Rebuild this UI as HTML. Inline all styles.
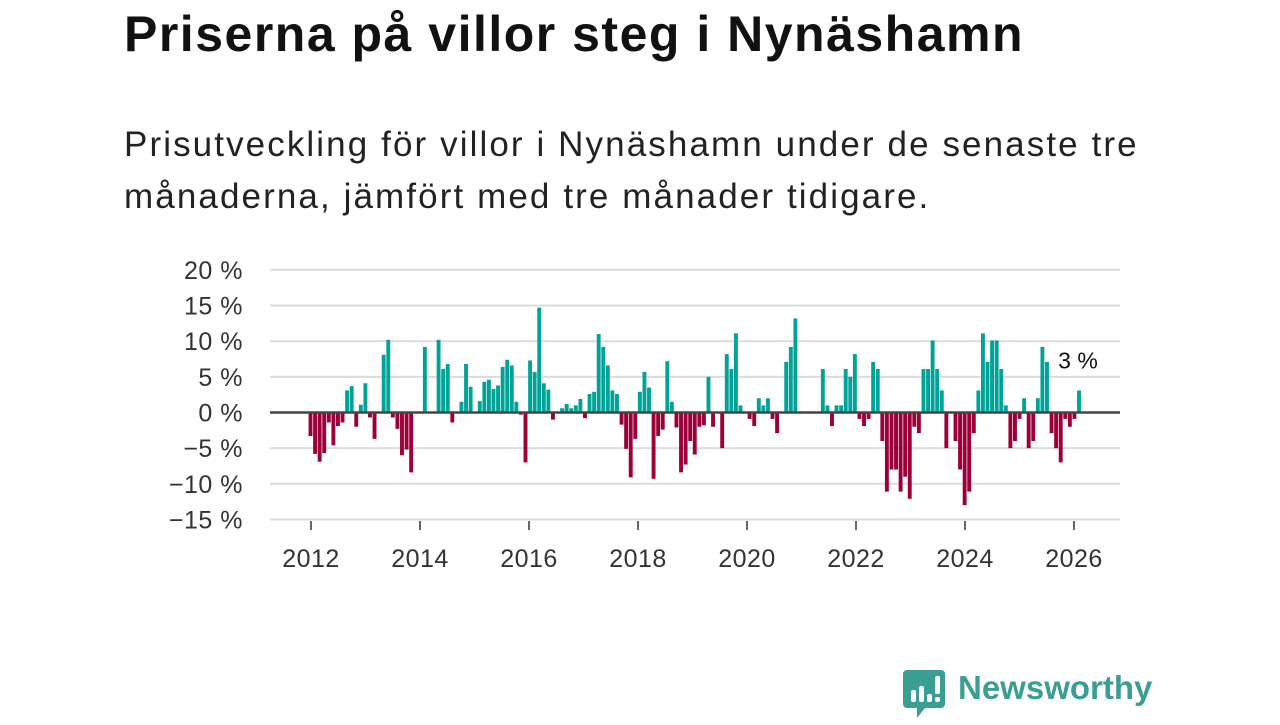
<!DOCTYPE html>
<html><head><meta charset="utf-8">
<style>
body{margin:0;background:#fff;width:1280px;height:720px;overflow:hidden;font-family:"Liberation Sans","DejaVu Sans",sans-serif;}
h1{position:absolute;left:124px;top:5px;margin:0;font-size:50px;font-weight:bold;color:#111;letter-spacing:1.5px;white-space:nowrap;}
p.sub{position:absolute;left:124px;top:119px;margin:0;font-size:35px;line-height:52px;color:#222;width:1100px;letter-spacing:2.1px;white-space:nowrap;}
#chart{position:absolute;left:0;top:0;}
.logo{position:absolute;left:903px;top:670px;}
.logo span{position:absolute;left:55px;top:-1px;font-size:33px;font-weight:bold;color:#3a9e92;white-space:nowrap;}
</style></head><body>
<h1>Priserna på villor steg i Nynäshamn</h1>
<p class="sub">Prisutveckling för villor i Nynäshamn under de senaste tre<br>månaderna, jämfört med tre månader tidigare.</p>
<svg id="chart" width="1280" height="720"></svg>
<div class="logo">
<svg width="42" height="50" viewBox="0 0 42 50"><path d="M4 0h34a4 4 0 0 1 4 4v30a4 4 0 0 1-4 4H22L14 48V38H4a4 4 0 0 1-4-4V4a4 4 0 0 1 4-4z" fill="#3a9e92"/><rect x="8" y="20" width="5" height="12" rx="2" fill="#fff"/><rect x="16" y="16" width="5" height="16" rx="2" fill="#fff"/><rect x="24" y="24" width="5" height="8" rx="2" fill="#fff"/><rect x="32" y="6" width="5" height="18" rx="2" fill="#fff"/><rect x="32" y="27" width="5" height="5" rx="2" fill="#fff"/></svg>
<span>Newsworthy</span></div>
<script>
const values=[-3.3,-5.8,-6.9,-5.7,-1.4,-4.6,-1.9,-1.4,3.1,3.7,-2.0,1.1,4.1,-0.7,-3.7,0,8.1,10.2,-0.7,-2.3,-6.0,-5.2,-8.4,0,0,9.2,0,0,10.2,6.1,6.8,-1.4,0,1.5,6.8,3.6,0,1.6,4.3,4.6,3.3,3.8,6.4,7.4,6.6,1.5,-0.3,-7.0,7.3,5.7,14.7,4.1,3.2,-1.0,0,0.6,1.2,0.6,1.0,1.9,-0.8,2.6,2.9,11.0,9.2,6.6,3.1,2.6,-1.7,-5.1,-9.1,-3.7,2.9,5.7,3.5,-9.3,-3.3,-2.4,7.2,1.5,-2.1,-8.4,-7.3,-4.0,-5.9,-2.0,-1.8,5.0,-2.0,0,-5.0,8.2,6.1,11.1,1.0,0,-0.9,-1.9,2.0,1.0,2.0,-0.9,-2.9,0,7.1,9.2,13.2,0,0,0,0,0,6.1,1.0,-1.9,1.0,1.0,6.1,5.0,8.2,-0.9,-1.9,-0.9,7.1,6.1,-4.0,-11.1,-8.0,-8.0,-11.1,-9.0,-12.1,-2.0,-2.9,6.1,6.1,10.1,6.1,3.1,-5.0,0,-4.0,-8.0,-13.0,-11.1,-2.9,3.1,11.1,7.1,10.1,10.1,6.1,1.0,-5.0,-4.0,-0.9,2.0,-5.0,-4.0,2.0,9.2,7.1,-2.9,-5.0,-7.0,-0.9,-2.0,-0.9,3.1];
const yTicks=[20,15,10,5,0,-5,-10,-15];
const yTickLabels=["20 %","15 %","10 %","5 %","0 %","\u22125 %","\u221210 %","\u221215 %"];
const xYears=[2012,2014,2016,2018,2020,2022,2024,2026];
const lastLabel="3 %";
const NS="http://www.w3.org/2000/svg";
const svg=document.getElementById('chart');
function y(v){return 412.5-v*7.13;}
function xYear(yr){return 311+(yr-2012)*54.5;}
function xBar(i){return 310.5+i*(1079-310.5)/(values.length-1);}
function mk(t,a){const e=document.createElementNS(NS,t);for(const k in a)e.setAttribute(k,a[k]);svg.appendChild(e);return e;}
yTicks.forEach((t,i)=>{
  if(t!==0){const l=mk('line',{x1:270,x2:1120,y1:y(t),y2:y(t),stroke:'#dcdcdc','stroke-width':2});
  
  }
  const tx=mk('text',{x:243,y:y(t)+9,'text-anchor':'end','font-size':25,fill:'#333','font-family':'"Liberation Sans",sans-serif','letter-spacing':'0.5'});
  tx.textContent=yTickLabels[i];
  
  
});
const bw=3.9;
values.forEach((v,i)=>{
  if(v===0)return;
  const r=mk('rect',{x:xBar(i)-bw/2,y:v>0?y(v):y(0),width:bw,height:Math.abs(y(v)-y(0)),fill:v>0?'#00a398':'#9b0038'});
  
  
});
const z=mk('line',{x1:270,x2:1120,y1:y(0),y2:y(0),stroke:'#444','stroke-width':2.5});


xYears.forEach(yr=>{
  const t=mk('line',{x1:xYear(yr),x2:xYear(yr),y1:521,y2:530,stroke:'#333','stroke-width':1.5});
  
  
  const tx=mk('text',{x:xYear(yr),y:567,'text-anchor':'middle','font-size':25,fill:'#333','font-family':'"Liberation Sans",sans-serif','letter-spacing':'0.5'});
  tx.textContent=yr;
  
  
});
const li=values.length-1;
const bg=mk('rect',{x:xBar(li)-24,y:y(values[li])-46,width:50,height:30,fill:'#fff',rx:4});


const lab=mk('text',{x:xBar(li)-1,y:y(values[li])-22,'text-anchor':'middle','font-size':23,fill:'#111','font-family':'"Liberation Sans",sans-serif'});
lab.textContent=lastLabel;


</script>
</body></html>
